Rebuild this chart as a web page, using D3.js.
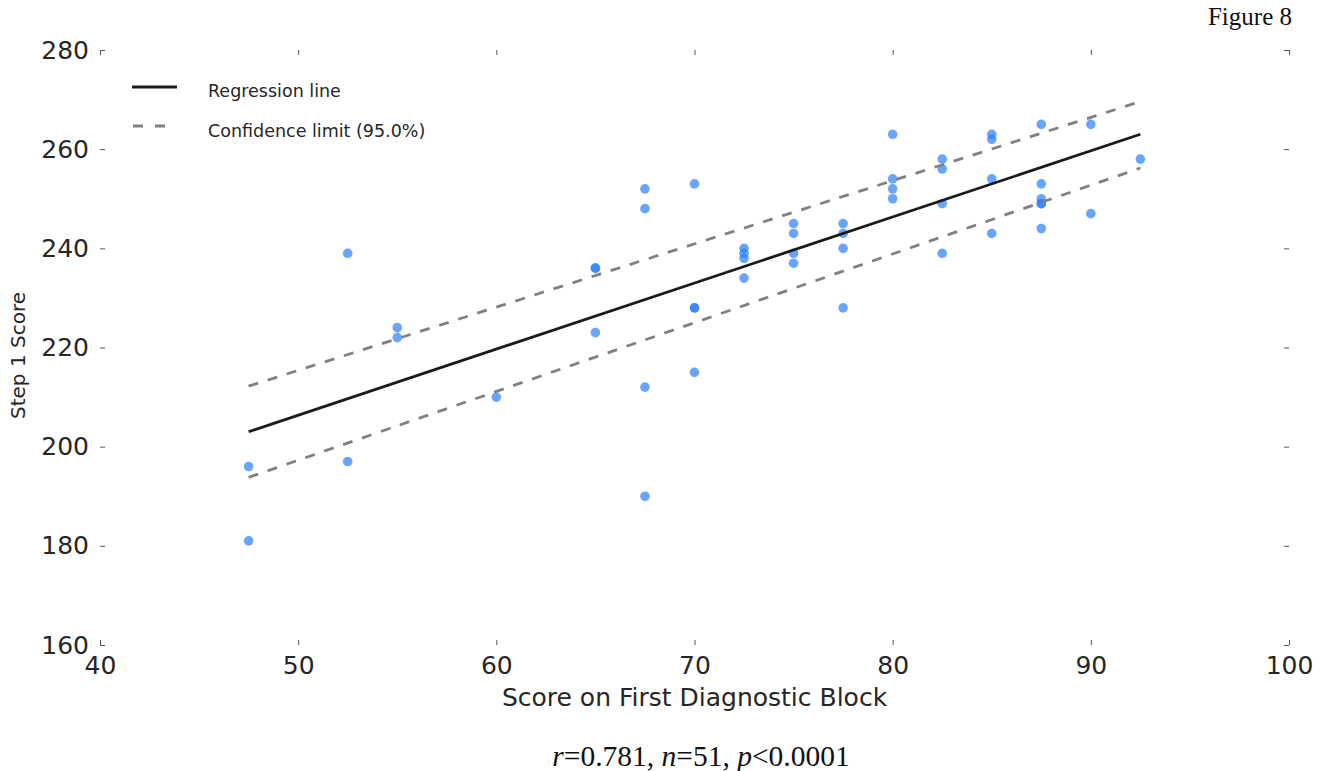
<!DOCTYPE html>
<html>
<head>
<meta charset="utf-8">
<script src="https://cdn.jsdelivr.net/npm/d3@7"></script>
<style>
    body { margin: 0; background: #fff; }
    svg { display: block; }
    .tick text { font-family: "DejaVu Sans", sans-serif; fill: #262626; }
</style>
</head>
<body>
<div id="chart"></div>
<script>
// scores: first diagnostic block (x) vs step 1 (y)
const blockScore = [47.5, 47.5, 52.5, 52.5, 55, 55, 60, 65, 65, 65,
    67.5, 67.5, 67.5, 67.5, 70, 70, 70, 70, 72.5, 72.5, 72.5, 72.5,
    75, 75, 75, 75, 77.5, 77.5, 77.5, 77.5, 80, 80, 80, 80,
    82.5, 82.5, 82.5, 82.5, 85, 85, 85, 85,
    87.5, 87.5, 87.5, 87.5, 87.5, 87.5, 90, 90, 92.5];
const step1Score = [196, 181, 239, 197, 224, 222, 210, 236, 236, 223,
    252, 248, 212, 190, 253, 228, 228, 215, 240, 239, 238, 234,
    245, 243, 239, 237, 245, 243, 240, 228, 263, 254, 252, 250,
    258, 256, 249, 239, 263, 262, 254, 243,
    265, 253, 250, 249, 249, 244, 265, 247, 258];

// fitted lines (end points)
const fitX = [47.5, 92.5];
const fitY = [203, 263];
const upperY = [212.2, 269.6];
const lowerY = [193.8, 256.2];

const xTicks = [40, 50, 60, 70, 80, 90, 100];
const yTicks = [160, 180, 200, 220, 240, 260, 280];

const legendItems = ["Regression line", "Confidence limit (95.0%)"];
const caption = [["r", true], ["=0.781, ", false], ["n", true], ["=51, ", false], ["p", true], ["<0.0001", false]];

let width = 1325, height = 771;
let margin = {left: 100, right: 36, top: 50, bottom: 126};

let svg = d3.select('#chart').append('svg')
    .attr('width', width)
    .attr('height', height);

let x = d3.scaleLinear().domain([40, 100]).range([margin.left, width - margin.right]);
let y = d3.scaleLinear().domain([160, 280]).range([height - margin.bottom, margin.top]);

//Ticks point inward on all four sides, no spines
function styleAxis(g) {
    g.select('.domain').remove();
    g.selectAll('.tick line').attr('stroke', '#555').attr('stroke-width', 1);
}

svg.append('g')
    .attr('transform', 'translate(0,' + y(160) + ')')
    .call(d3.axisBottom(x).tickValues(xTicks).tickSizeInner(-5).tickPadding(11).tickFormat(d3.format('d')))
    .call(styleAxis)
    .selectAll('text').style('font-size', '25px');

svg.append('g')
    .attr('transform', 'translate(0,' + y(280) + ')')
    .call(d3.axisTop(x).tickValues(xTicks).tickSizeInner(-5).tickFormat(''))
    .call(styleAxis);

svg.append('g')
    .attr('transform', 'translate(' + x(40) + ',0)')
    .call(d3.axisLeft(y).tickValues(yTicks).tickSizeInner(-5).tickPadding(11).tickFormat(d3.format('d')))
    .call(styleAxis)
    .selectAll('text').style('font-size', '25px');

svg.append('g')
    .attr('transform', 'translate(' + x(100) + ',0)')
    .call(d3.axisRight(y).tickValues(yTicks).tickSizeInner(-5).tickFormat(''))
    .call(styleAxis);

// scatter
svg.append('g').selectAll('circle')
    .data(blockScore.map(function (d, i) { return [d, step1Score[i]]; }))
    .join('circle')
    .attr('cx', function (d) { return x(d[0]); })
    .attr('cy', function (d) { return y(d[1]); })
    .attr('r', 4.8)
    .attr('fill', '#2a7fff')
    .attr('fill-opacity', 0.7);

let line = d3.line()
    .x(function (d) { return x(d[0]); })
    .y(function (d) { return y(d[1]); });

[upperY, lowerY].forEach(function (ys) {
    svg.append('path')
        .attr('d', line(fitX.map(function (d, i) { return [d, ys[i]]; })))
        .attr('fill', 'none')
        .attr('stroke', '#808080')
        .attr('stroke-width', 2.8)
        .attr('stroke-dasharray', '10,10');
});

svg.append('path')
    .attr('d', line(fitX.map(function (d, i) { return [d, fitY[i]]; })))
    .attr('fill', 'none')
    .attr('stroke', '#1a1a1a')
    .attr('stroke-width', 2.8);

// legend
let legend = svg.append('g').attr('transform', 'translate(132,87)');
legend.append('line')
    .attr('x1', 0).attr('x2', 45).attr('y1', 0).attr('y2', 0)
    .attr('stroke', '#1a1a1a').attr('stroke-width', 2.8);
legend.append('line')
    .attr('x1', 1).attr('x2', 33).attr('y1', 39).attr('y2', 39)
    .attr('stroke', '#808080').attr('stroke-width', 2.8).attr('stroke-dasharray', '10,12');
legend.selectAll('text')
    .data(legendItems)
    .join('text')
    .attr('x', 76)
    .attr('y', function (d, i) { return 10 + i * 40; })
    .style('font-family', '"DejaVu Sans", sans-serif')
    .style('font-size', '17.5px')
    .style('fill', '#262626')
    .text(function (d) { return d; });

// axis titles
svg.append('text')
    .attr('x', (x(40) + x(100)) / 2)
    .attr('y', 706)
    .attr('text-anchor', 'middle')
    .style('font-family', '"DejaVu Sans", sans-serif')
    .style('font-size', '25px')
    .style('fill', '#262626')
    .text('Score on First Diagnostic Block');

svg.append('text')
    .attr('transform', 'translate(25,' + ((y(160) + y(280)) / 2 + 8) + ') rotate(-90)')
    .attr('text-anchor', 'middle')
    .style('font-family', '"DejaVu Sans", sans-serif')
    .style('font-size', '20px')
    .style('fill', '#262626')
    .text('Step 1 Score');

svg.append('text')
    .attr('x', 1292)
    .attr('y', 25)
    .attr('text-anchor', 'end')
    .style('font-family', '"Liberation Serif", serif')
    .style('font-size', '25px')
    .style('fill', '#111')
    .text('Figure 8');

let cap = svg.append('text')
    .attr('x', 701)
    .attr('y', 766)
    .attr('text-anchor', 'middle')
    .style('font-family', '"Liberation Serif", serif')
    .style('font-size', '29.5px')
    .style('fill', '#111');
cap.selectAll('tspan')
    .data(caption)
    .join('tspan')
    .style('font-style', function (d) { return d[1] ? 'italic' : 'normal'; })
    .text(function (d) { return d[0]; });
</script>
</body>
</html>
